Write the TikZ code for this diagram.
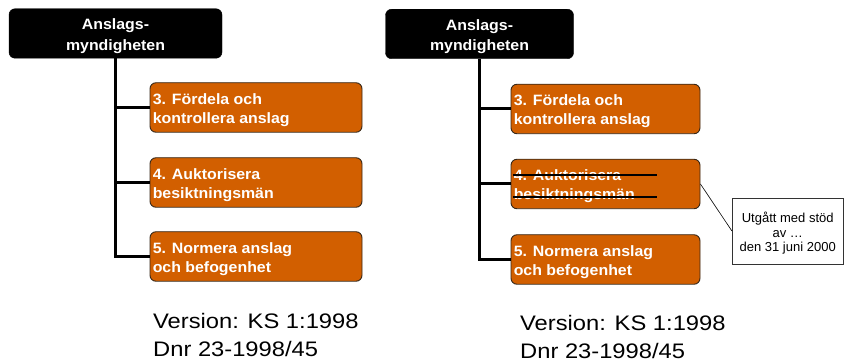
\documentclass[tikz,border=0pt]{standalone}
\usepackage{fontspec}
\setmainfont{Liberation Sans}
\newfontfamily\boxfont[FakeStretch=1.06]{Liberation Sans}
\newfontfamily\verfont[FakeStretch=1.13]{Liberation Sans}
\newfontfamily\notefont{Liberation Sans}
\usetikzlibrary{calc}
\definecolor{taskorange}{RGB}{210,95,0}
\definecolor{taskedge}{RGB}{55,40,25}

\begin{document}
\begin{tikzpicture}[x=1pt,y=-1pt,
  headbox/.style={draw=black, fill=black, rounded corners=6pt, minimum height=49.5pt, inner sep=0pt},
  headtext/.style={text=white, align=center, inner sep=0pt,
    font=\boxfont\bfseries\fontsize{15}{20.5}\selectfont},
  taskbox/.style={draw=taskedge, line width=0.9pt, fill=taskorange, rounded corners=6pt,
    minimum height=49.5pt, inner sep=0pt},
  tasktext/.style={anchor=west, text=white, align=left, inner sep=0pt,
    font=\boxfont\bfseries\fontsize{15}{19}\selectfont},
  trunk/.style={line width=3pt},
  strike/.style={line width=1.3pt},
  notebox/.style={draw=black!80, line width=0.6pt, minimum width=111pt, minimum height=66pt, inner sep=0pt},
  notetext/.style={align=center, inner sep=0pt, font=\notefont\fontsize{13}{14.5}\selectfont},
  notelink/.style={line width=0.6pt},
  vertext/.style={anchor=base west, inner sep=0pt, font=\verfont\fontsize{21}{28}\selectfont},
]
\useasboundingbox (0,0) rectangle (844,363);

% ---------- left organisation chart ----------
\node[headbox, minimum width=213pt] (hL) at (115.5,33.5) {};
\node[headtext] (hLtxt) at ([yshift=-2.5pt]hL.center) {Anslags-\\myndigheten};

\node[taskbox, minimum width=212pt] (tL1) at (256,107.5) {};
\node[taskbox, minimum width=212pt] (tL2) at (256,182.5) {};
\node[taskbox, minimum width=212pt] (tL3) at (256,256.5) {};
\node[tasktext] (tL1txt) at ([xshift=3pt,yshift=-2.5pt]tL1.west) {3. Fördela och\\kontrollera anslag};
\node[tasktext] (tL2txt) at ([xshift=3pt,yshift=-2.5pt]tL2.west) {4. Auktorisera\\besiktningsmän};
\node[tasktext] (tL3txt) at ([xshift=3pt,yshift=-2.5pt]tL3.west) {5. Normera anslag\\och befogenhet};

\draw[trunk] (hL.south) |- (tL1.west);
\draw[trunk] (hL.south) |- (tL2.west);
\draw[trunk] (hL.south) |- (tL3.west);

\node[vertext] (verL1) at (153,328.3) {Version: KS 1:1998};
\node[vertext] (verL2) at (153,356.7) {Dnr 23-1998/45};

% ---------- right organisation chart ----------
\node[headbox, minimum width=188pt] (hR) at (479.5,34) {};
\node[headtext] (hRtxt) at ([yshift=-2.5pt]hR.center) {Anslags-\\myndigheten};

\node[taskbox, minimum width=189pt] (tR1) at (605.5,109) {};
\node[taskbox, minimum width=189pt] (tR2) at (605.5,184) {};
\node[taskbox, minimum width=189pt] (tR3) at (605.5,259.5) {};
\node[tasktext] (tR1txt) at ([xshift=3pt,yshift=-2.5pt]tR1.west) {3. Fördela och\\kontrollera anslag};
\node[tasktext] (tR2txt) at ([xshift=3pt,yshift=-2.5pt]tR2.west) {4. Auktorisera\\besiktningsmän};
\node[tasktext] (tR3txt) at ([xshift=3pt,yshift=-2.5pt]tR3.west) {5. Normera anslag\\och befogenhet};

\draw[trunk] (hR.south) |- (tR1.west);
\draw[trunk] (hR.south) |- (tR2.west);
\draw[trunk] (hR.south) |- (tR3.west);

% struck-out task
\draw[strike] ([xshift=2pt,yshift=9pt]tR2.west) -- ++(144,0);
\draw[strike] ([xshift=2pt,yshift=-13pt]tR2.west) -- ++(144,0);

% note on the struck-out task
\node[notebox] (note) at (787.7,231) {};
\node[notetext] (notetxt) at ([yshift=-2.5pt]note.center) {Utgått med stöd\\av …\\den 31 juni 2000};
\draw[notelink] (tR2.east) -- (note.west);

\node[vertext] (verR1) at (520,331) {Version: KS 1:1998};
\node[vertext] (verR2) at (520,358.5) {Dnr 23-1998/45};
\end{tikzpicture}
\end{document}
